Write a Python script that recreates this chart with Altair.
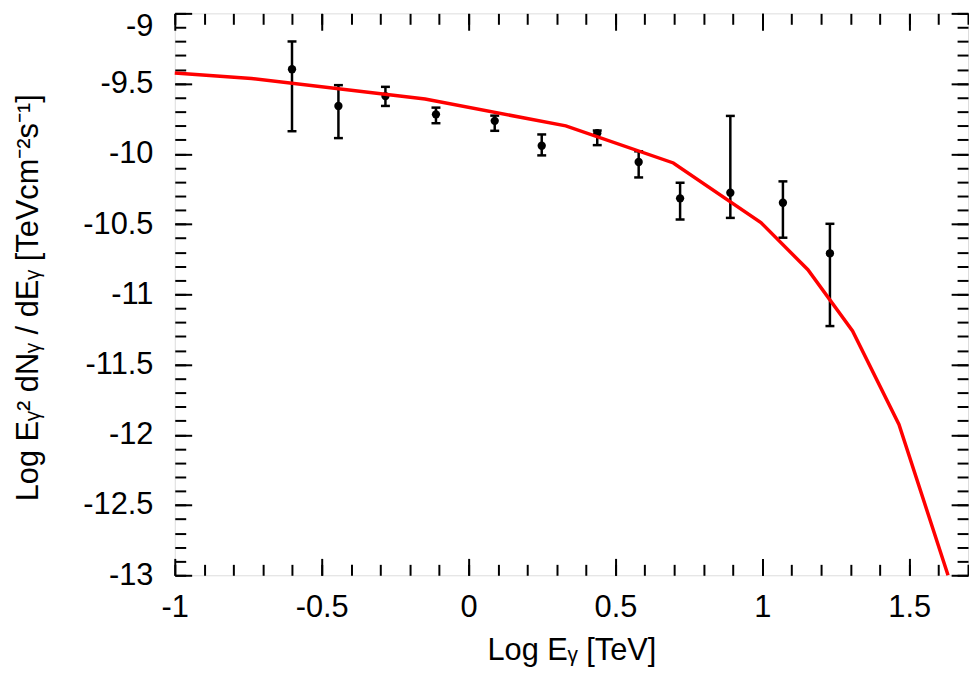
import altair as alt
import pandas as pd

# model curve (red line)
line_x = [-1.0, -0.739, -0.148, 0.331, 0.697, 0.995, 1.155, 1.307, 1.465, 1.632]
line_y = [-9.424, -9.464, -9.610, -9.801, -10.065, -10.489, -10.825, -11.261, -11.926, -13.0]

# measured points with error bars
pt_x = [-0.601, -0.443, -0.283, -0.111, 0.089, 0.249, 0.438, 0.579, 0.720, 0.891, 1.070, 1.230]
pt_y = [-9.398, -9.659, -9.589, -9.719, -9.765, -9.942, -9.853, -10.058, -10.317, -10.277, -10.348, -10.708]
pt_hi = [-9.200, -9.511, -9.523, -9.671, -9.728, -9.862, -9.834, -9.982, -10.206, -9.730, -10.196, -10.498]
pt_lo = [-9.839, -9.888, -9.659, -9.782, -9.836, -10.011, -9.938, -10.168, -10.468, -10.456, -10.597, -11.226]

x_major = [-1.0, -0.5, 0.0, 0.5, 1.0, 1.5]
y_major = [-9.0, -9.5, -10.0, -10.5, -11.0, -11.5, -12.0, -12.5, -13.0]
x_minor = [round(-1.0 + 0.1 * i, 1) for i in range(28)]
y_minor = [round(-9.0 - 0.1 * i, 1) for i in range(41)]

X_TITLE = "Log E\u1d67 [TeV]"
Y_TITLE = "Log E\u1d67\u00b2 dN\u1d67 / dE\u1d67 [TeVcm\u207b\u00b2s\u207b\u00b9]"

line_df = pd.DataFrame({"x": line_x, "y": line_y})
pt_df = pd.DataFrame({"x": pt_x, "y": pt_y, "hi": pt_hi, "lo": pt_lo})

xs = alt.Scale(domain=[-1.0, 1.7], nice=False, zero=False)
ys = alt.Scale(domain=[-13.0, -9.0], nice=False, zero=False)
FONT = "Liberation Sans"
FS = 31

main_x_axis = alt.Axis(
    orient="bottom", values=x_major, labelExpr="'' + datum.value",
    ticks=False, tickSize=0, domain=False, grid=False, labelFlush=False,
    labelFont=FONT, labelFontSize=FS, labelColor="black", labelPadding=18,
    title=X_TITLE, titleFont=FONT, titleFontSize=FS, titleFontWeight="normal",
    titleColor="black", titleBaseline="alphabetic", titleAlign="center",
    titleX=399.5, titleY=85,
)
main_y_axis = alt.Axis(
    orient="left", values=y_major, labelExpr="'' + datum.value",
    ticks=False, tickSize=0, domain=False, grid=False, labelFlush=False,
    labelFont=FONT, labelFontSize=FS, labelColor="black", labelPadding=22,
    labelBaseline={"condition": {"test": "datum.value == -9", "value": "top"}, "value": "middle"},
    labelOffset={"condition": {"test": "datum.value == -9", "value": -2}, "value": 0},
    title=Y_TITLE, titleFont=FONT, titleFontSize=FS, titleFontWeight="normal",
    titleColor="black", titleBaseline="alphabetic", titleAlign="center",
    titleAngle=270, titleX=-138, titleY=286,
)


def tick_axis(orient, values, size):
    return alt.Axis(
        orient=orient, values=values, offset=-size, tickSize=size, tickWidth=2,
        tickColor="black", labels=False, domain=False, grid=False, title=None,
    )


def tick_layer(x_axis, y_axis):
    return alt.Chart(line_df).mark_point(opacity=0).encode(
        x=alt.X("x:Q", scale=xs, axis=x_axis),
        y=alt.Y("y:Q", scale=ys, axis=y_axis),
    )


MAJ, MIN = 17, 11

ticks_bl_major = tick_layer(tick_axis("bottom", x_major, MAJ), tick_axis("left", y_major, MAJ))
ticks_bl_minor = tick_layer(tick_axis("bottom", x_minor, MIN), tick_axis("left", y_minor, MIN))
ticks_tr_major = tick_layer(tick_axis("top", x_major, MAJ), tick_axis("right", y_major, MAJ))
ticks_tr_minor = tick_layer(tick_axis("top", x_minor, MIN), tick_axis("right", y_minor, MIN))

err_rules = alt.Chart(pt_df).mark_rule(color="black", strokeWidth=2.5).encode(
    x=alt.X("x:Q", scale=xs, axis=None),
    y=alt.Y("lo:Q", scale=ys, axis=None),
    y2="hi:Q",
)
cap_lo = alt.Chart(pt_df).mark_tick(orient="horizontal", size=9, thickness=2.5, color="black", opacity=1).encode(
    x=alt.X("x:Q", scale=xs, axis=None),
    y=alt.Y("lo:Q", scale=ys, axis=None),
)
cap_hi = alt.Chart(pt_df).mark_tick(orient="horizontal", size=9, thickness=2.5, color="black", opacity=1).encode(
    x=alt.X("x:Q", scale=xs, axis=None),
    y=alt.Y("hi:Q", scale=ys, axis=None),
)
points = alt.Chart(pt_df).mark_circle(size=70, color="black", opacity=1).encode(
    x=alt.X("x:Q", scale=xs, axis=None),
    y=alt.Y("y:Q", scale=ys, axis=None),
)

curve = alt.Chart(line_df).mark_line(color="#ff0000", strokeWidth=3.5).encode(
    x=alt.X("x:Q", scale=xs, axis=main_x_axis),
    y=alt.Y("y:Q", scale=ys, axis=main_y_axis),
)

chart = alt.layer(
    ticks_bl_major, ticks_bl_minor, ticks_tr_major, ticks_tr_minor,
    err_rules, cap_lo, cap_hi, points, curve,
).resolve_axis(x="independent", y="independent").properties(
    width=799, height=566,
    autosize=alt.AutoSizeParams(type="none"),
    padding={"left": 168, "top": 3, "right": 1, "bottom": 91},
).configure_view(stroke="black", strokeWidth=2).configure(background="white")

chart.save("out.html", embed_options={"renderer": "svg", "actions": False})
